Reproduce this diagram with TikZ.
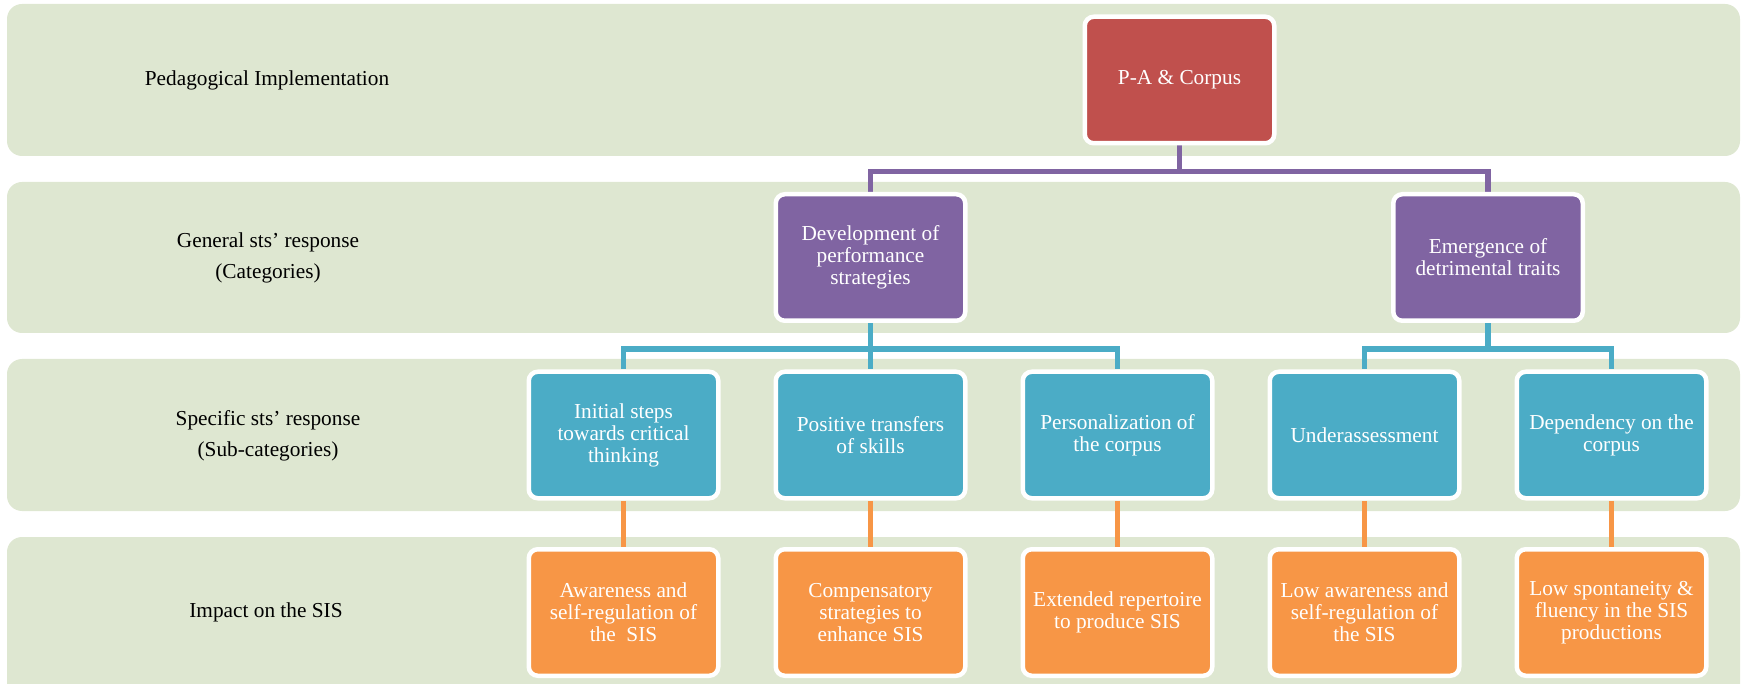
\documentclass[tikz,border=0pt]{standalone}
\usepackage{fontspec}
\setmainfont{Liberation Serif}
\usepackage{tikz}
\usetikzlibrary{positioning,backgrounds}
\definecolor{pagreen}{RGB}{222,231,209}
\definecolor{pared}{RGB}{192,80,77}
\definecolor{papurple}{RGB}{128,100,162}
\definecolor{pacyan}{RGB}{75,172,198}
\definecolor{paorange}{RGB}{247,150,70}
\tikzstyle{link} = [line width=5.5pt]

\begin{document}
\begin{tikzpicture}[x=1pt, y=-1pt,
    level/.style={fill=pagreen, rounded corners=15pt},
    caption/.style={align=center, font=\fontsize{21.3}{31}\selectfont},
    concept/.style={rectangle, rounded corners=9pt, draw=white, line width=4.5pt, text=white, minimum width=189.5pt, minimum height=126.5pt, align=center, font=\fontsize{21.3}{22}\selectfont}]

\useasboundingbox (0,0) rectangle (1741,684);

% Rows
\begin{scope}[on background layer]
\fill[level] (7,4) rectangle (1740,156);
\fill[level] (7,182) rectangle (1740,333);
\fill[level] (7,359) rectangle (1740,511);
\fill[level] (7,537) rectangle (1740,710);
\end{scope}

% Row captions
\node[caption] (implementation) at (267,80) {Pedagogical Implementation};
\node[caption] (categories) at (268,258) {General sts’ response\\(Categories)};
\node[caption] (subcategories) at (268,436) {Specific sts’ response\\(Sub-categories)};
\node[caption] (impact) at (266,612) {Impact on the SIS};

% Root
\node[concept, fill=pared] (corpus) at (1179.5,80) {P-A \& Corpus};

% Categories
\node[concept, fill=papurple] (performance) at (870.5,257.5) {Development of\\performance\\strategies};
\node[concept, fill=papurple] (detrimental) at (1488,257.5) {Emergence of\\detrimental traits};

% Sub-categories
\node[concept, fill=pacyan] (critical) at (623.5,435) {Initial steps\\towards critical\\thinking};
\node[concept, fill=pacyan] (transfers) at (870.5,435) {Positive transfers\\of skills};
\node[concept, fill=pacyan] (personal) at (1117.5,435) {Personalization of\\the corpus};
\node[concept, fill=pacyan] (under) at (1364.5,435) {Underassessment};
\node[concept, fill=pacyan] (dependency) at (1611.5,435) {Dependency on the\\corpus};

% Impact
\node[concept, fill=paorange] (awareness) at (623.5,612.5) {Awareness and\\self-regulation of\\the~~SIS};
\node[concept, fill=paorange] (compensatory) at (870.5,612.5) {Compensatory\\strategies to\\enhance SIS};
\node[concept, fill=paorange] (repertoire) at (1117.5,612.5) {Extended repertoire\\to produce SIS};
\node[concept, fill=paorange] (lowaware) at (1364.5,612.5) {Low awareness and\\self-regulation of\\the SIS};
\node[concept, fill=paorange] (spontaneity) at (1611.5,612.5) {Low spontaneity \&\\fluency in the SIS\\productions};

% Connections
\begin{scope}[on background layer]
\draw[link, papurple] (corpus.south) -- ++(0,26) -| (performance.north);
\draw[link, papurple] (corpus.south) -- ++(0,26) -| (detrimental.north);

\draw[link, pacyan] (performance.south) -- ++(0,26) -| (critical.north);
\draw[link, pacyan] (performance.south) -- (transfers.north);
\draw[link, pacyan] (performance.south) -- ++(0,26) -| (personal.north);
\draw[link, pacyan] (detrimental.south) -- ++(0,26) -| (under.north);
\draw[link, pacyan] (detrimental.south) -- ++(0,26) -| (dependency.north);

\draw[link, paorange] (critical) -- (awareness);
\draw[link, paorange] (transfers) -- (compensatory);
\draw[link, paorange] (personal) -- (repertoire);
\draw[link, paorange] (under) -- (lowaware);
\draw[link, paorange] (dependency) -- (spontaneity);
\end{scope}
\end{tikzpicture}
\end{document}
